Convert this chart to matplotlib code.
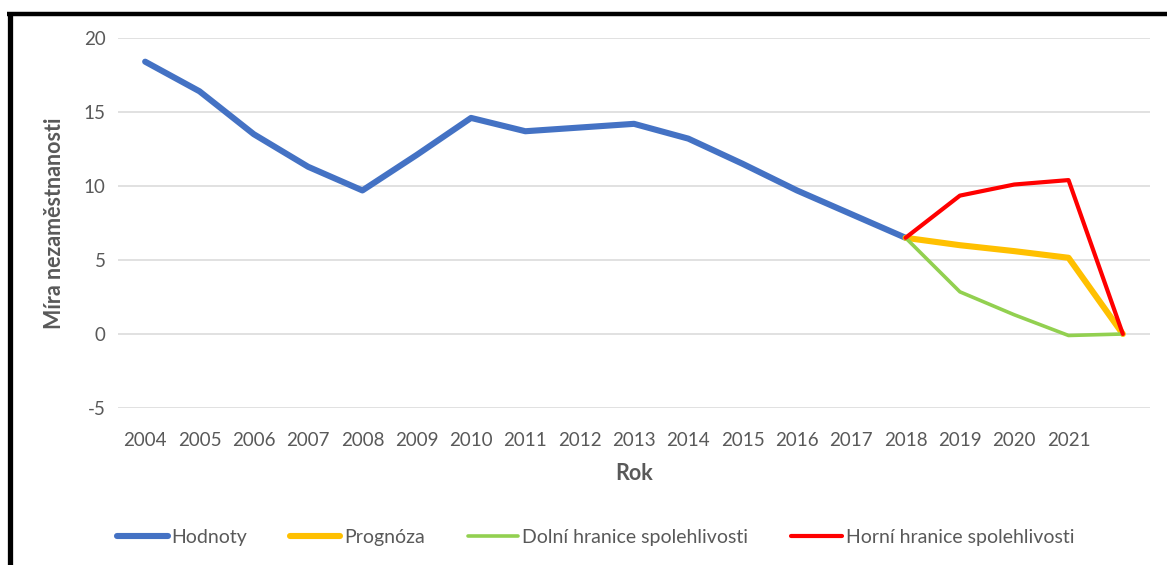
import matplotlib
matplotlib.use("Agg")
import matplotlib.pyplot as plt
from matplotlib.lines import Line2D

# Data
years = ["2004", "2005", "2006", "2007", "2008", "2009", "2010", "2011", "2012",
         "2013", "2014", "2015", "2016", "2017", "2018", "2019", "2020", "2021", ""]
hodnoty = [18.4, 16.4, 13.5, 11.3, 9.7, 12.1, 14.6, 13.7, 13.95, 14.2, 13.2,
           11.5, 9.7, 8.1, 6.5]
prognoza = [6.5, 6.0, 5.6, 5.15, 0.0]
dolni = [6.5, 2.85, 1.3, -0.1, 0.0]
horni = [6.5, 9.35, 10.1, 10.4, 0.0]
forecast_start = 14  # index of 2018

W, H = 1167, 565
fig = plt.figure(figsize=(W / 100, H / 100), dpi=100)
plt.rcParams['font.family'] = ['Lato', 'DejaVu Sans']
plt.rcParams['axes.unicode_minus'] = False

TXT = "#595959"
FS = 13.5

left, right, top, bottom = 118, 1150, 38, 408
ax = fig.add_axes([left / W, 1 - bottom / H, (right - left) / W, (bottom - top) / H])

x_all = list(range(len(years)))
x_hist = x_all[:len(hodnoty)]
x_fc = x_all[forecast_start:forecast_start + len(prognoza)]

ax.plot(x_hist, hodnoty, color="#4472C4", lw=4.4, solid_capstyle="round",
        solid_joinstyle="round", label="Hodnoty", zorder=3)
ax.plot(x_fc, prognoza, color="#FFC000", lw=4.4, solid_capstyle="round",
        solid_joinstyle="round", label="Prognóza", zorder=3)
ax.plot(x_fc, dolni, color="#92D050", lw=2.6, solid_capstyle="round",
        solid_joinstyle="round", label="Dolní hranice spolehlivosti", zorder=4)
ax.plot(x_fc, horni, color="#FF0000", lw=3.0, solid_capstyle="round",
        solid_joinstyle="round", label="Horní hranice spolehlivosti", zorder=5)

ax.set_xlim(-0.5, len(years) - 0.5)
ax.set_ylim(-5, 20)
ax.set_yticks([-5, 0, 5, 10, 15, 20])
ax.set_xticks(x_all)
ax.set_xticklabels(years)
ax.grid(axis="y", color="#D9D9D9", lw=1.1)
ax.set_axisbelow(True)
for s in ax.spines.values():
    s.set_visible(False)
ax.tick_params(axis="both", length=0, colors=TXT, labelsize=FS)
ax.tick_params(axis="x", pad=17)
ax.tick_params(axis="y", pad=9)

ax.set_xlabel("Rok", fontsize=15.5, fontweight="bold", color=TXT, labelpad=10)
ax.set_ylabel("Míra nezaměstnanosti", fontsize=15.5, fontweight="bold",
              color=TXT, labelpad=13)

leg = fig.legend(loc="center", bbox_to_anchor=(595.5 / W, 1 - 537 / H), ncol=4,
                 frameon=False, fontsize=14, handlelength=2.6, handletextpad=0.2,
                 columnspacing=2.2)
for t in leg.get_texts():
    t.set_color(TXT)

# Frame around the chart (left and top edges)
fig.add_artist(Line2D([9.5 / W, 9.5 / W], [0, 1 - 12 / H], transform=fig.transFigure,
                      color="black", lw=3.8, solid_capstyle="butt"))
fig.add_artist(Line2D([7 / W, 1], [1 - 14 / H, 1 - 14 / H], transform=fig.transFigure,
                      color="black", lw=3.2, solid_capstyle="butt"))

fig.savefig("out.png", dpi=100)
